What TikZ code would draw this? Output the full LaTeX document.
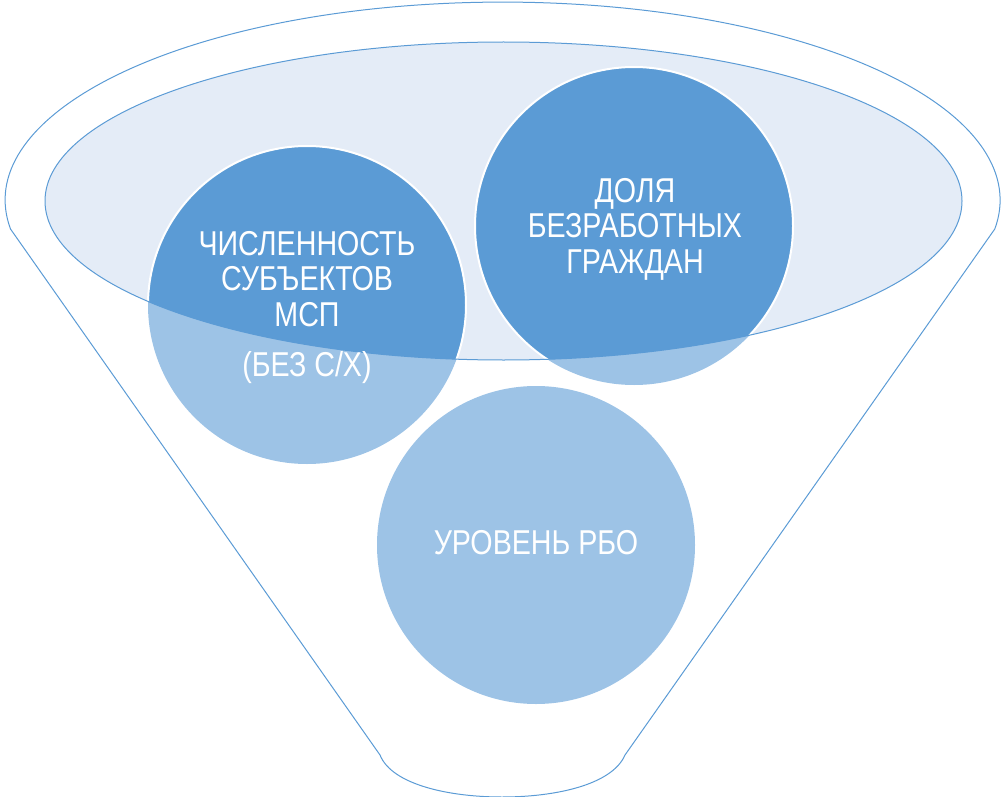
\documentclass[tikz,border=0pt]{standalone}
\usepackage{fontspec}
\setmainfont[FakeStretch=0.83]{Liberation Sans}
\definecolor{darkblue}{HTML}{5B9BD5}
\definecolor{lightblue}{HTML}{9DC3E6}
\definecolor{ellfill}{HTML}{E4ECF7}
\tikzset{
  funnelline/.style={draw=darkblue, line width=1pt},
  bubble/.style={circle, minimum size=318pt, inner sep=0pt, outer sep=0pt},
  label/.style={anchor=base, text=white, inner sep=0pt, font=\fontsize{34.5}{36}\selectfont},
}
\begin{document}
\begin{tikzpicture}[x=1pt,y=-1pt]
\useasboundingbox (0,0) rectangle (1001,797);
% funnel outline
\draw[funnelline, line join=round] (10.5,229)
  arc[start angle=171.6, end angle=368.4, x radius=497.5, y radius=198]
  -- (625,755) .. controls (612,785) and (555,797) .. (502,797)
  .. controls (450,797) and (392,785) .. (380,755) -- cycle;
% inner ellipse fill
\fill[ellfill] (503.5,201) ellipse[x radius=458.5, y radius=159];
% circles (light)
\node[bubble, fill=lightblue] (c1) at (307,305) {};
\node[bubble, fill=lightblue] (c2) at (634,226) {};
\node[bubble, fill=lightblue] (c3) at (536,545) {};
% dark parts inside the ellipse
\begin{scope}
  \clip (503.5,201) ellipse[x radius=458.5, y radius=159];
  \node[bubble, fill=darkblue, draw=white, line width=2pt] (d1) at (307,305) {};
  \node[bubble, fill=darkblue, draw=white, line width=2pt] (d2) at (634,226) {};
\end{scope}
% ellipse border
\draw[funnelline] (503.5,201) ellipse[x radius=458.5, y radius=159];
% texts
\node[label] (t1) at (307,255) {ЧИСЛЕННОСТЬ};
\node[label] (t2) at (307,290) {СУБЪЕКТОВ};
\node[label] (t3) at (307,326) {МСП};
\node[label] (t4) at (307,376) {(БЕЗ С/Х)};
\node[label] (t5) at (635,202) {ДОЛЯ};
\node[label] (t6) at (635,237) {БЕЗРАБОТНЫХ};
\node[label] (t7) at (635,273) {ГРАЖДАН};
\node[label] (t8) at (536,554) {УРОВЕНЬ РБО};
\end{tikzpicture}
\end{document}
